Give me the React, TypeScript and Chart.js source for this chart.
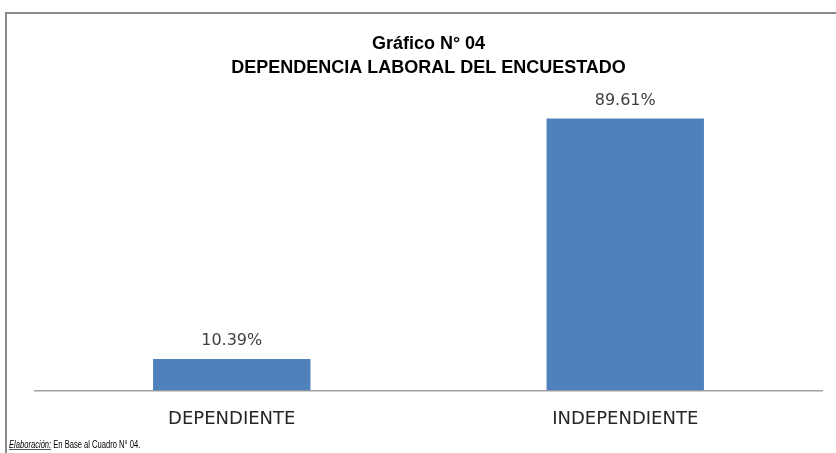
import React, { useEffect, useRef } from "react";
import { Chart, registerables } from "chart.js";

Chart.register(...registerables);

const categories = ["DEPENDIENTE", "INDEPENDIENTE"];
const values = [10.39, 89.61];
const valueLabels = ["10.39%", "89.61%"];
const titleLines = ["Gráfico N° 04", "DEPENDENCIA LABORAL DEL ENCUESTADO"];
const footerLead = "Elaboración:";
const footerRest = " En Base al Cuadro N° 04.";

const framePlugin = {
  id: "frame",
  beforeDraw(chart: any) {
    const ctx = chart.ctx;
    ctx.save();
    ctx.fillStyle = "#ffffff";
    ctx.fillRect(0, 0, chart.width, chart.height);
    ctx.strokeStyle = "#8a8a8a";
    ctx.lineWidth = 2;
    ctx.beginPath();
    ctx.moveTo(6, chart.height);
    ctx.lineTo(6, 13);
    ctx.lineTo(chart.width, 13);
    ctx.stroke();
    ctx.restore();
  },
};

const dataLabelPlugin = {
  id: "dataLabels",
  afterDatasetsDraw(chart: any) {
    const ctx = chart.ctx;
    const meta = chart.getDatasetMeta(0);
    ctx.save();
    ctx.font = "16px 'DejaVu Sans'";
    ctx.fillStyle = "#404040";
    ctx.textAlign = "center";
    ctx.textBaseline = "alphabetic";
    meta.data.forEach((el: any, i: number) => {
      ctx.fillText(valueLabels[i], el.x, el.y - 14);
    });
    ctx.restore();
  },
};

const footerPlugin = {
  id: "footer",
  afterDraw(chart: any) {
    const ctx = chart.ctx;
    ctx.save();
    ctx.fillStyle = "#000000";
    ctx.textAlign = "left";
    ctx.textBaseline = "alphabetic";
    const x = 9;
    const y = 448;
    ctx.translate(x, y);
    ctx.scale(0.69, 1);
    ctx.font = "italic 11px 'Liberation Sans'";
    ctx.fillText(footerLead, 0, 0);
    const w = ctx.measureText(footerLead).width;
    ctx.strokeStyle = "#000000";
    ctx.lineWidth = 0.8;
    ctx.beginPath();
    ctx.moveTo(0, 1.5);
    ctx.lineTo(w, 1.5);
    ctx.stroke();
    ctx.font = "11px 'Liberation Sans'";
    ctx.fillText(footerRest, w, 0);
    ctx.restore();
  },
};

export default function App() {
  const ref = useRef<HTMLCanvasElement | null>(null);

  useEffect(() => {
    if (!ref.current) return;
    const chart = new Chart(ref.current, {
      type: "bar",
      data: {
        labels: categories,
        datasets: [
          {
            data: values,
            backgroundColor: "#4F81BD",
            borderWidth: 0,
            barPercentage: 0.4,
            categoryPercentage: 1,
          },
        ],
      },
      options: {
        responsive: false,
        animation: false,
        devicePixelRatio: 1,
        layout: { padding: { top: 0, left: 35, right: 14, bottom: 5 } },
        plugins: {
          legend: { display: false },
          tooltip: { enabled: false },
          title: {
            display: true,
            text: titleLines,
            color: "#000000",
            font: { family: "'Liberation Sans'", size: 18, weight: "bold", lineHeight: 1.28 },
            padding: { top: 33, bottom: 8 },
          },
        },
        scales: {
          x: {
            grid: { display: false, drawTicks: false },
            border: { display: true, color: "#a0a0a0", width: 1.5 },
            ticks: {
              font: { family: "'DejaVu Sans'", size: 18 },
              color: "#262626",
              padding: 18,
            },
          },
          y: { display: false, min: 0, max: 100 },
        },
      },
      plugins: [framePlugin, dataLabelPlugin, footerPlugin],
    });
    return () => chart.destroy();
  }, []);

  return (
    <div style={{ position: "absolute", left: 0, top: 0, width: 836, height: 453, background: "#fff" }}>
      <canvas ref={ref} width={836} height={453} />
    </div>
  );
}
